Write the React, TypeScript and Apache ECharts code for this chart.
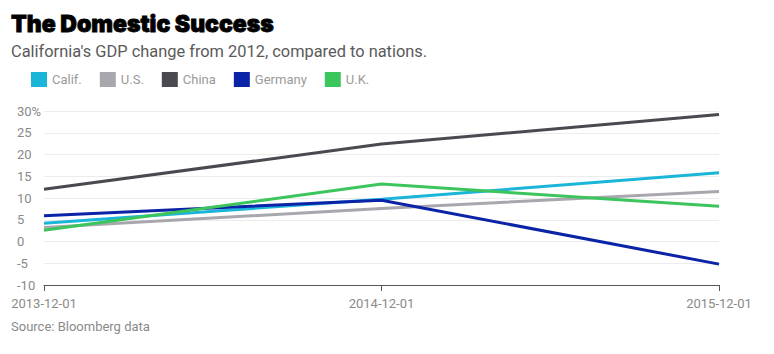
import React, { useEffect, useRef } from "react";
import * as echarts from "echarts";

const categories = ["2013-12-01", "2014-12-01", "2015-12-01"];
const califValues = [4.2, 9.7, 15.8];
const usValues = [3.2, 7.6, 11.5];
const chinaValues = [12.0, 22.4, 29.2];
const germanyValues = [5.9, 9.5, -5.2];
const ukValues = [2.6, 13.2, 8.1];

const seriesNames = ["Calif.", "U.S.", "China", "Germany", "U.K."];
const seriesColors = ["#1bb5d9", "#a8a7ae", "#4a4950", "#0b23a6", "#3bc55c"];

const FONT = "Roboto, 'Noto Sans', sans-serif";

export default function App() {
  const ref = useRef<HTMLDivElement>(null);
  useEffect(() => {
    if (!ref.current) return;
    const chart = echarts.init(ref.current, undefined, { renderer: "svg" });
    const data = [califValues, usValues, chinaValues, germanyValues, ukValues];
    chart.setOption({
      animation: false,
      backgroundColor: "#ffffff",
      textStyle: { fontFamily: FONT },
      title: [
        {
          text: "The Domestic Success",
          left: 6,
          top: 7,
          textStyle: {
            fontFamily: "Inter, sans-serif",
            fontWeight: 900,
            fontSize: 23,
            color: "#000",
            textBorderColor: "#000",
            textBorderWidth: 0.8,
          },
        },
        {
          text: "California's GDP change from 2012, compared to nations.",
          left: 6,
          top: 38,
          textStyle: { fontFamily: FONT, fontWeight: "normal", fontSize: 16.4, color: "#5a5a5a" },
        },
        {
          text: "Source: Bloomberg data",
          left: 6,
          top: 315,
          textStyle: { fontFamily: FONT, fontWeight: "normal", fontSize: 13, color: "#8a8a8a" },
        },
      ],
      legend: {
        left: 26,
        top: 67,
        icon: "rect",
        itemWidth: 16,
        itemHeight: 15,
        itemGap: 18,
        data: seriesNames,
        textStyle: { fontFamily: FONT, fontSize: 13, color: "#9a9a9a" },
      },
      grid: { left: 44, right: 55, top: 111, bottom: 69 },
      xAxis: {
        type: "category",
        data: categories,
        boundaryGap: false,
        axisLine: { onZero: false, lineStyle: { color: "#555", width: 1 } },
        axisTick: { show: true, length: 6, lineStyle: { color: "#555" } },
        axisLabel: { color: "#8a8a8a", fontSize: 13, margin: 12, fontFamily: FONT },
        splitLine: { show: false },
      },
      yAxis: {
        type: "value",
        min: -10,
        max: 30,
        interval: 5,
        axisLine: { show: false },
        axisTick: { show: false },
        axisLabel: {
          color: "#8a8a8a",
          fontSize: 13,
          align: "left",
          margin: 27,
          fontFamily: FONT,
          formatter: (v: number) => (v === 30 ? "30%" : String(v)),
        },
        splitLine: { lineStyle: { color: "#ececec", width: 1 } },
      },
      series: seriesNames.map((name, i) => ({
        name,
        type: "line",
        data: data[i],
        symbol: "none",
        lineStyle: { width: 3, color: seriesColors[i] },
        itemStyle: { color: seriesColors[i] },
      })),
    });
    return () => chart.dispose();
  }, []);
  return <div ref={ref} style={{ width: 774, height: 354, position: "absolute", left: 0, top: 0 }} />;
}
